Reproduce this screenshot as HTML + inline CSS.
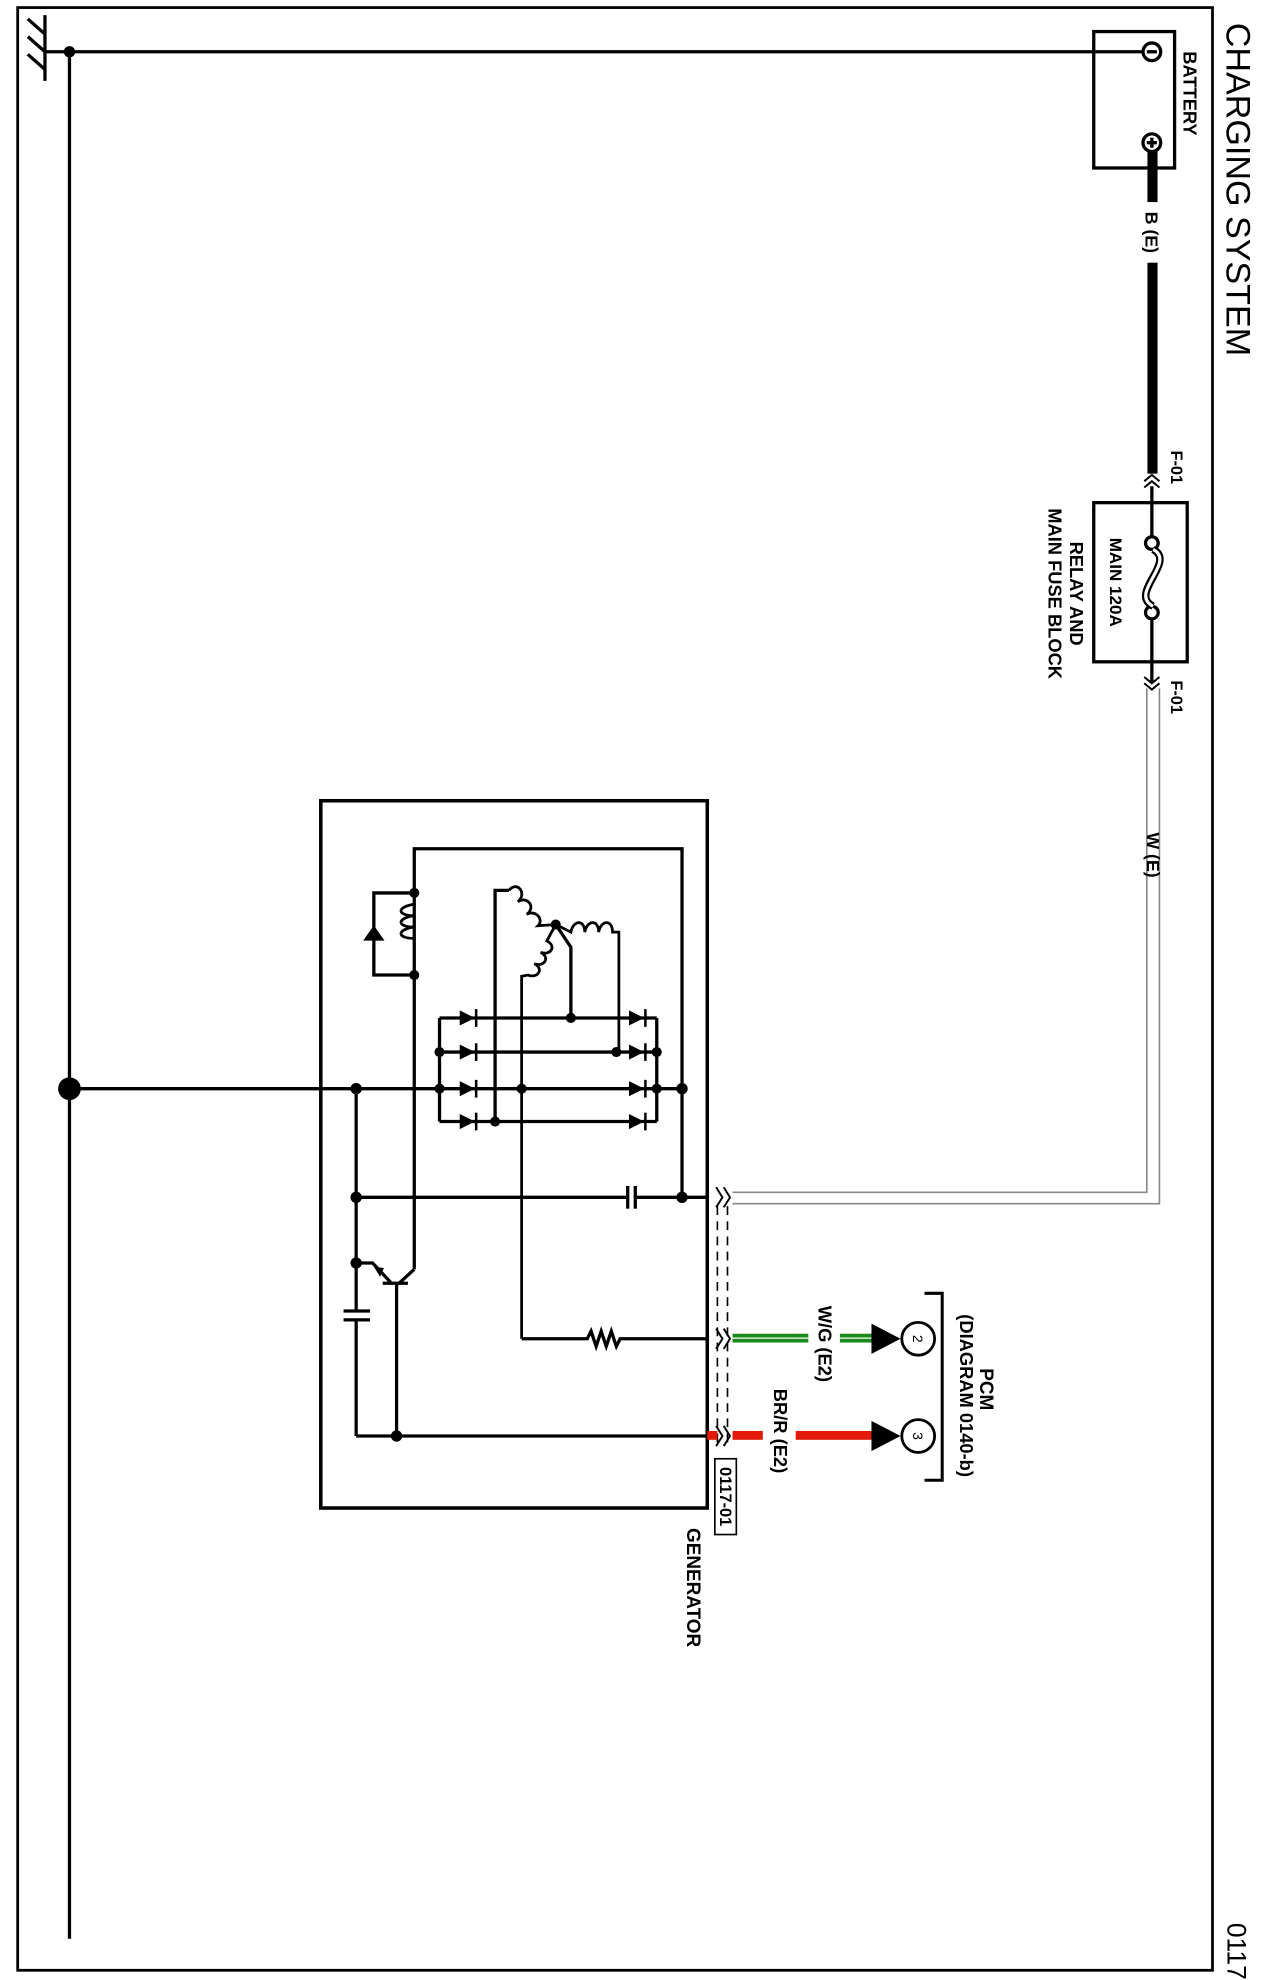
<!DOCTYPE html>
<html><head><meta charset="utf-8"><style>
html,body{margin:0;padding:0;background:#fff;}
svg{display:block;}
text{font-family:"Liberation Sans",sans-serif;font-weight:bold;fill:#000;}
</style></head><body>
<svg width="1263" height="1980" viewBox="0 0 1000 1567.7" xmlns="http://www.w3.org/2000/svg">
<g fill="none" stroke="#000" stroke-width="2.6">
<rect x="14" y="6" width="946" height="1554" stroke-width="2.2"/>
<line x1="35.6" y1="12" x2="35.6" y2="64"/>
<line x1="35.6" y1="27" x2="22" y2="15"/>
<line x1="35.6" y1="41" x2="22" y2="29"/>
<line x1="35.6" y1="55" x2="22" y2="43"/>
<line x1="35.6" y1="41" x2="905" y2="41"/>
<line x1="55" y1="41" x2="55" y2="1535"/>
<rect x="866" y="25" width="64" height="108"/>
<circle cx="912" cy="41" r="7" fill="#fff"/>
<line x1="908" y1="41" x2="916" y2="41"/>
<circle cx="912" cy="113" r="7" fill="#fff"/>
<line x1="908" y1="113" x2="916" y2="113"/><line x1="912" y1="109" x2="912" y2="117"/>
<rect x="866" y="398" width="74" height="126"/>
<line x1="912" y1="385" x2="912" y2="424"/>
<line x1="912" y1="491" x2="912" y2="540"/>
<circle cx="912" cy="430" r="5" fill="#fff"/>
<circle cx="912" cy="485" r="5" fill="#fff"/>
<path d="M913 435 C932 445,893 470,913 480" stroke-width="6"/>
<path d="M913 435 C932 445,893 470,913 480" stroke="#fff" stroke-width="2.5"/>
<path d="M906 381 L912 376 L918 381 M906 386 L912 381 L918 386" stroke-width="1.6"/>
<path d="M906 536 L912 541 L918 536 M906 541 L912 546 L918 541" stroke-width="1.6"/>
<rect x="254" y="634" width="306" height="560" stroke-width="2.8"/>
<polyline points="328,1005 328,672 540,672 540,948"/>
<polyline points="328,707 296,707 296,772 328,772"/>
<path d="M289 744 L303 744 M289 744 L296 734 L303 744 Z" fill="#000" stroke-width="1.5"/>
<path d="M328 716 c-14 2,-14 9,0 9 c-14 2,-14 9,0 9 c-14 2,-14 9,0 9" fill="none" stroke-width="2.2"/>
<polyline points="392,888 392,705 403,705"/>
<path d="M403 705 c6 -8,15 2,7 9 c7 -5,15 4,7 10 c7 -4,14 4,9 9 L440 732" stroke-width="2.2"/>
<path d="M440 732 L452 750 L452 806"/>
<path d="M440 732 L452 738 c2 -10,11 -10,11 0 c2 -10,11 -10,11 0 c2 -10,11 -10,11 0 L490 738 L490 833" stroke-width="2.2"/>
<path d="M440 732 L433 745 c8 4,3 12,-5 9 c8 4,3 12,-5 9 c8 4,3 12,-5 9 L413 773 L413 1060" stroke-width="2.2"/>
<line x1="348" y1="806" x2="348" y2="888"/>
<line x1="520" y1="806" x2="520" y2="888"/>
<line x1="348" y1="806" x2="520" y2="806"/>
<line x1="348" y1="833" x2="520" y2="833"/>
<line x1="348" y1="888" x2="520" y2="888"/>
<line x1="55" y1="862" x2="540" y2="862"/>
<line x1="282" y1="862" x2="282" y2="1038"/>
<line x1="282" y1="1045" x2="282" y2="1137"/>
<line x1="272" y1="1038" x2="293" y2="1038"/><line x1="272" y1="1045" x2="293" y2="1045"/>
<line x1="282" y1="1137" x2="560" y2="1137"/>
<line x1="282" y1="948" x2="497" y2="948"/>
<line x1="503" y1="948" x2="560" y2="948"/>
<line x1="497" y1="939" x2="497" y2="957"/><line x1="503" y1="939" x2="503" y2="957"/>
<polyline points="282,1000 295,1000 310,1016"/>
<line x1="303" y1="1016" x2="323" y2="1016"/>
<polyline points="316,1016 328,1005"/>
<line x1="314" y1="1016" x2="314" y2="1137"/>
<polyline points="413,1060 465,1060 468,1054 472,1066 476,1054 480,1066 484,1054 488,1066 491,1060 560,1060"/>
<path d="M908 545 V944 H580 M918 545 V953 H580" stroke="#888" stroke-width="1.3"/>
<path d="M568 955 V1145 M576 955 V1145" stroke-width="1.3" stroke-dasharray="7 5"/>
<path d="M567 940 L572 948 L567 956 M573 940 L578 948 L573 956" stroke-width="1.5"/>
<path d="M567 1052 L572 1060 L567 1068 M573 1052 L578 1060 L573 1068" stroke-width="1.5"/>
<path d="M567 1129 L572 1137 L567 1145 M573 1129 L578 1137 L573 1145" stroke-width="1.5"/>
</g>
<rect x="908.5" y="120" width="8" height="40" fill="#000"/>
<rect x="908.5" y="208" width="8" height="167" fill="#000"/>
<rect x="580" y="1056" width="60" height="7" fill="#1a8a1a"/>
<rect x="665" y="1056" width="27" height="7" fill="#1a8a1a"/>
<line x1="580" y1="1059.5" x2="692" y2="1059.5" stroke="#fff" stroke-width="1" stroke-dasharray="60 25 27"/>
<rect x="560" y="1133" width="8" height="7" fill="#e21a0a"/>
<rect x="580" y="1133" width="24" height="7" fill="#e21a0a"/>
<rect x="630" y="1133" width="62" height="7" fill="#e21a0a"/>
<path d="M690 1048 L713 1060 L690 1072 Z" fill="#000"/>
<path d="M690 1125 L713 1137 L690 1149 Z" fill="#000"/>
<circle cx="727" cy="1060" r="13" fill="#fff" stroke="#000" stroke-width="2.2"/>
<circle cx="727" cy="1137" r="13" fill="#fff" stroke="#000" stroke-width="2.2"/>
<polyline points="732,1024 746,1024 746,1172 732,1172" fill="none" stroke="#000" stroke-width="2.4"/>
<g fill="#000">
<circle cx="55" cy="41" r="4.5"/>
<circle cx="55" cy="862" r="9"/>
<circle cx="328" cy="707" r="4"/><circle cx="328" cy="772" r="4"/>
<circle cx="440" cy="732" r="4"/><circle cx="452" cy="806" r="4"/>
<circle cx="488" cy="833" r="4"/><circle cx="413" cy="862" r="4"/><circle cx="392" cy="888" r="4"/>
<circle cx="348" cy="833" r="4"/><circle cx="348" cy="862" r="4"/>
<circle cx="520" cy="833" r="4"/><circle cx="520" cy="862" r="4"/>
<circle cx="540" cy="862" r="4.5"/><circle cx="540" cy="948" r="4.5"/>
<circle cx="282" cy="862" r="4.5"/><circle cx="282" cy="948" r="4.5"/><circle cx="282" cy="1000" r="4.5"/>
<circle cx="314" cy="1137" r="4.5"/>
<g id="dl">
<path d="M364 800 L376 806 L364 812 Z"/><rect x="376" y="799" width="2" height="14"/>
<path d="M364 827 L376 833 L364 839 Z"/><rect x="376" y="826" width="2" height="14"/>
<path d="M364 856 L376 862 L364 868 Z"/><rect x="376" y="855" width="2" height="14"/>
<path d="M364 882 L376 888 L364 894 Z"/><rect x="376" y="881" width="2" height="14"/>
</g>
<use href="#dl" x="134"/>
<path d="M296 1003 L304 1004 L301 1011 Z"/>
</g>
<g>
<text transform="translate(971,150) rotate(90)" text-anchor="middle" font-size="27" style="font-weight:normal">CHARGING SYSTEM</text>
<text transform="translate(972,1545) rotate(90)" text-anchor="middle" font-size="21" style="font-weight:normal">0117</text>
<text transform="translate(937,74) rotate(90)" text-anchor="middle" font-size="14.5">BATTERY</text>
<text transform="translate(907,184) rotate(90)" text-anchor="middle" font-size="14">B (E)</text>
<text transform="translate(927,370) rotate(90)" text-anchor="middle" font-size="13">F-01</text>
<text transform="translate(927,552) rotate(90)" text-anchor="middle" font-size="13">F-01</text>
<text transform="translate(879,461) rotate(90)" text-anchor="middle" font-size="13.5">MAIN  120A</text>
<text transform="translate(847,470) rotate(90)" text-anchor="middle" font-size="14.5">RELAY AND</text>
<text transform="translate(830,470) rotate(90)" text-anchor="middle" font-size="14.5">MAIN FUSE BLOCK</text>
<text transform="translate(908,677) rotate(90)" text-anchor="middle" font-size="14">W (E)</text>
<text transform="translate(648,1064) rotate(90)" text-anchor="middle" font-size="14.5">W/G (E2)</text>
<text transform="translate(613,1133) rotate(90)" text-anchor="middle" font-size="14.5">BR/R (E2)</text>
<text transform="translate(723,1060) rotate(90)" text-anchor="middle" font-size="11" style="font-weight:normal">2</text>
<text transform="translate(723,1137) rotate(90)" text-anchor="middle" font-size="11" style="font-weight:normal">3</text>
<text transform="translate(776,1100) rotate(90)" text-anchor="middle" font-size="15">PCM</text>
<text transform="translate(760,1105) rotate(90)" text-anchor="middle" font-size="14.5">(DIAGRAM 0140-b)</text>
<rect x="566" y="1155" width="17" height="60" fill="#fff" stroke="#000" stroke-width="1.3"/>
<text transform="translate(570,1185) rotate(90)" text-anchor="middle" font-size="13">0117-01</text>
<text transform="translate(544,1257) rotate(90)" text-anchor="middle" font-size="15">GENERATOR</text>
</g>
</svg>
</body></html>
